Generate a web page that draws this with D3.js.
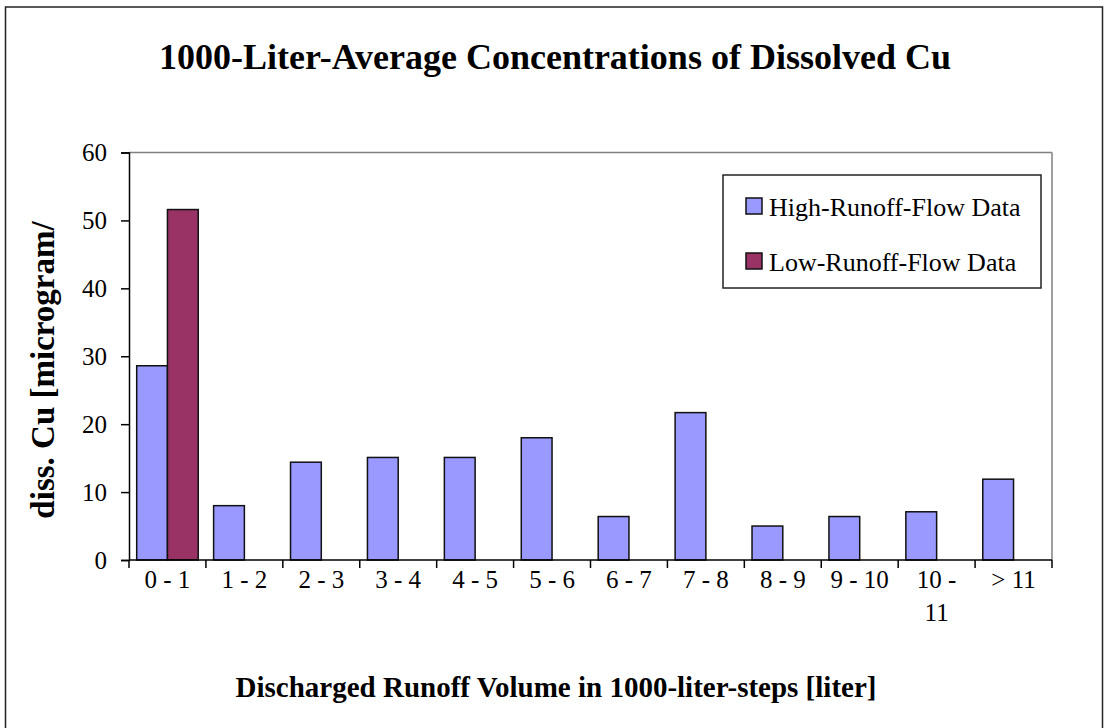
<!DOCTYPE html>
<html>
<head>
<meta charset="utf-8">
<script src="https://cdn.jsdelivr.net/npm/d3@7"></script>
<style>
body{margin:0;background:#fff;}
text{font-family:"Liberation Serif","Times New Roman",serif;}
</style>
</head>
<body>
<script>
// data
const categories=["0 - 1","1 - 2","2 - 3","3 - 4","4 - 5","5 - 6","6 - 7","7 - 8","8 - 9","9 - 10","10 - 11","> 11"];
const highFlow=[28.6,8.0,14.4,15.1,15.1,18.0,6.4,21.7,5.0,6.4,7.1,11.9];
const lowFlow=[51.6,null,null,null,null,null,null,null,null,null,null,null];
const seriesNames=["High-Runoff-Flow Data","Low-Runoff-Flow Data"];
const seriesColors=["#9999ff","#993366"];
const yTicks=[0,10,20,30,40,50,60];

const w=1104,h=728;
const pLeft=129,pRight=1052,pTop=152.5,pBottom=560;

const svg=d3.select("body").append("svg").attr("width",w).attr("height",h);

// outer frame
svg.append("rect").attr("x",5.5).attr("y",7).attr("width",1097).attr("height",740)
  .attr("fill","none").attr("stroke","#222").attr("stroke-width",1.5);

const x=d3.scaleBand().domain(categories).range([pLeft,pRight]).paddingInner(0).paddingOuter(0);
const xSub=d3.scaleBand().domain(seriesNames).range([0,x.bandwidth()]).paddingInner(0).paddingOuter(0.25);
const y=d3.scaleLinear().domain([0,60]).range([pBottom,pTop]);

// plot area border (grey top/right)
svg.append("line").attr("x1",pLeft).attr("x2",pRight).attr("y1",pTop).attr("y2",pTop).attr("stroke","#808080").attr("stroke-width",1.5);
svg.append("line").attr("x1",pRight).attr("x2",pRight).attr("y1",pTop).attr("y2",pBottom).attr("stroke","#808080").attr("stroke-width",1.5);

// bars
const rows=categories.map((c,i)=>({c,vals:[highFlow[i],lowFlow[i]]}));
const g=svg.selectAll("g.cat").data(rows).enter().append("g").attr("class","cat")
  .attr("transform",d=>"translate("+x(d.c)+",0)");
g.selectAll("rect").data(d=>d.vals.map((v,k)=>({v,k})).filter(e=>e.v!=null)).enter().append("rect")
  .attr("x",e=>xSub(seriesNames[e.k]))
  .attr("y",e=>y(e.v))
  .attr("width",xSub.bandwidth())
  .attr("height",e=>y(0)-y(e.v))
  .attr("fill",e=>seriesColors[e.k])
  .attr("stroke","#111").attr("stroke-width",1.5);

// y axis
const yAxis=d3.axisLeft(y).tickValues(yTicks).tickSize(8).tickPadding(14);
const ya=svg.append("g").attr("transform","translate("+pLeft+",0)").call(yAxis);
ya.select(".domain").attr("stroke","#000").attr("stroke-width",1.5);
ya.selectAll(".tick line").attr("stroke","#000").attr("stroke-width",1.5);
ya.selectAll("text").attr("font-size",25).attr("font-family","Liberation Serif").attr("fill","#000");

// x axis, ticks on category boundaries
const xa=svg.append("g").attr("transform","translate(0,"+pBottom+")");
xa.append("line").attr("x1",pLeft).attr("x2",pRight).attr("stroke","#000").attr("stroke-width",1.5);
xa.selectAll("line.tk").data(categories.concat(["end"])).enter().append("line").attr("class","tk")
  .attr("x1",(d,i)=>pLeft+i*x.step()).attr("x2",(d,i)=>pLeft+i*x.step())
  .attr("y1",0).attr("y2",8).attr("stroke","#000").attr("stroke-width",1.5);
const lbl=xa.selectAll("text.lb").data(categories).enter().append("text").attr("class","lb")
  .attr("x",d=>x(d)+x.bandwidth()/2).attr("y",28)
  .attr("text-anchor","middle").attr("font-size",25).attr("fill","#000");
lbl.each(function(d){
  const t=d3.select(this);
  if(d.length>6){
    const cut=d.lastIndexOf(" ");
    t.append("tspan").attr("x",x(d)+x.bandwidth()/2).text(d.slice(0,cut));
    t.append("tspan").attr("x",x(d)+x.bandwidth()/2).attr("dy",33).text(d.slice(cut+1));
  } else t.text(d);
});

// titles
svg.append("text").attr("x",555).attr("y",69).attr("text-anchor","middle")
  .attr("font-size",36).attr("font-weight","bold").text("1000-Liter-Average Concentrations of Dissolved Cu");
svg.append("text").attr("x",556).attr("y",697).attr("text-anchor","middle")
  .attr("font-size",29).attr("font-weight","bold").text("Discharged Runoff Volume in 1000-liter-steps [liter]");
svg.append("text").attr("transform","translate(54,370) rotate(-90)").attr("text-anchor","middle")
  .attr("font-size",33).attr("font-weight","bold").text("diss. Cu [microgram/");

// legend
const lg=svg.append("g");
lg.append("rect").attr("x",723).attr("y",175).attr("width",318).attr("height",113)
  .attr("fill","#fff").attr("stroke","#222").attr("stroke-width",1.5);
seriesNames.forEach((s,i)=>{
  lg.append("rect").attr("x",746).attr("y",198+i*55).attr("width",16).attr("height",16)
    .attr("fill",seriesColors[i]).attr("stroke","#111").attr("stroke-width",1.5);
  lg.append("text").attr("x",769).attr("y",216+i*55).attr("font-size",26).text(s);
});
</script>
</body>
</html>
